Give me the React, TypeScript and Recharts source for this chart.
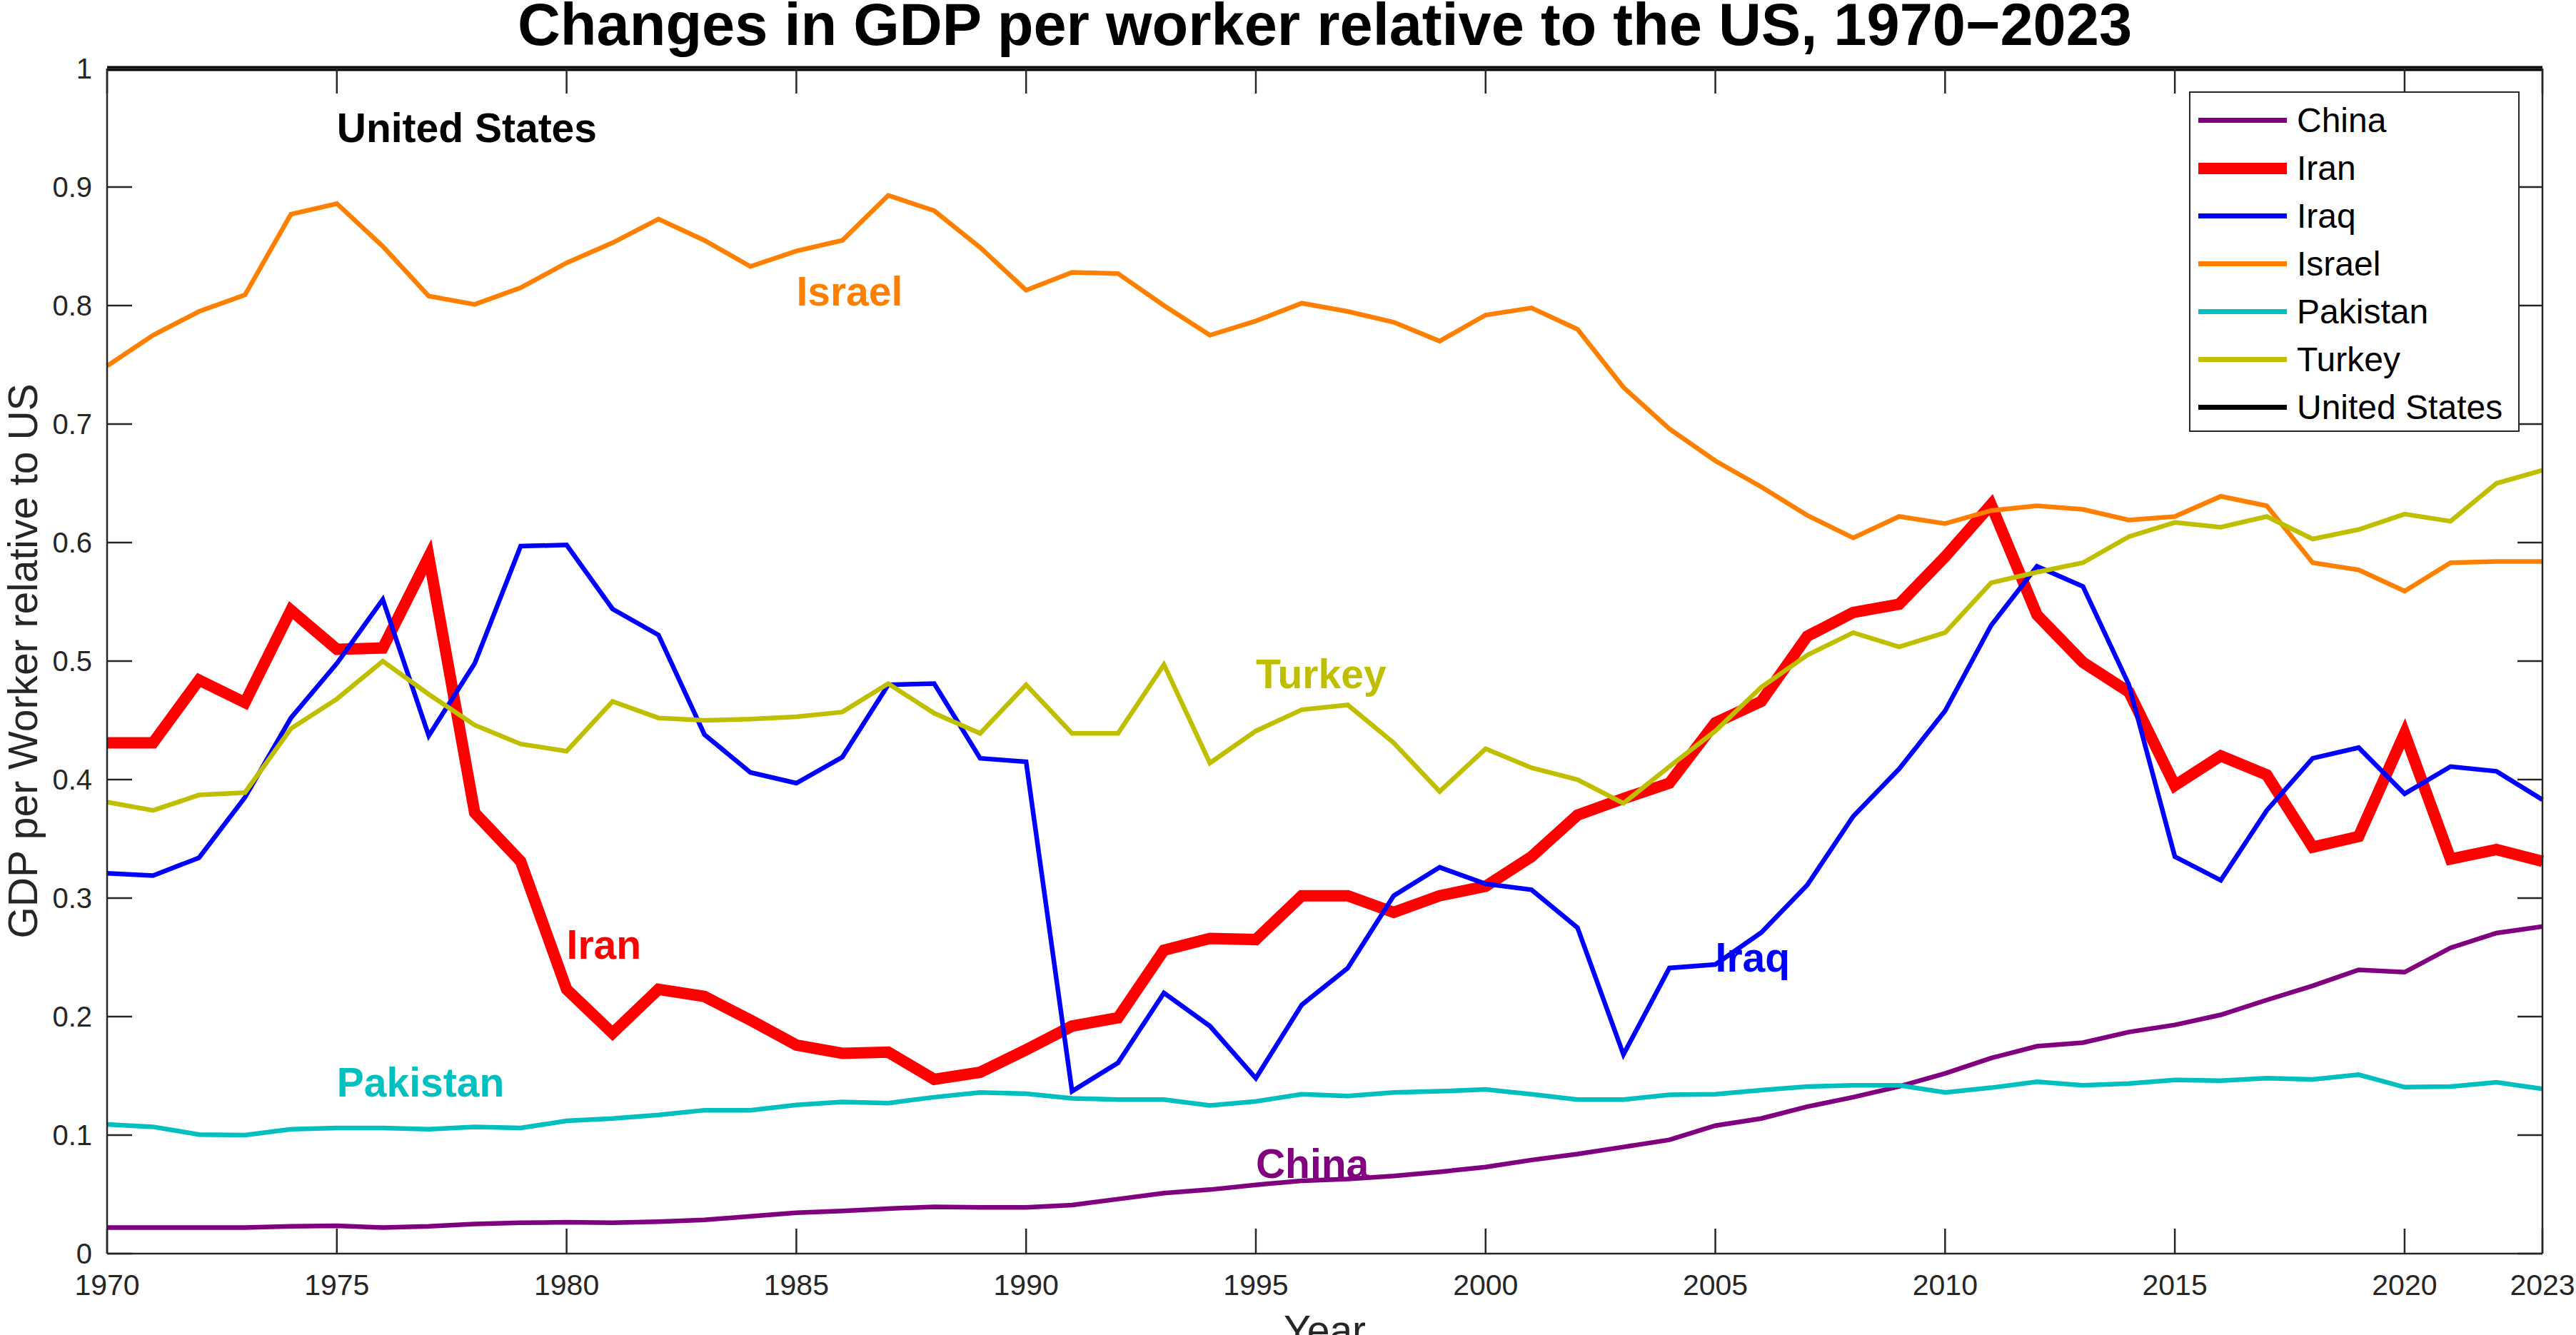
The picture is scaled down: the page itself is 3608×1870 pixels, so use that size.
import React from 'react'
import { LineChart, Line, XAxis, YAxis, ReferenceDot } from 'recharts'

const years = [
  1970, 1971, 1972, 1973, 1974, 1975, 1976, 1977, 1978, 1979,
  1980, 1981, 1982, 1983, 1984, 1985, 1986, 1987, 1988, 1989,
  1990, 1991, 1992, 1993, 1994, 1995, 1996, 1997, 1998, 1999,
  2000, 2001, 2002, 2003, 2004, 2005, 2006, 2007, 2008, 2009,
  2010, 2011, 2012, 2013, 2014, 2015, 2016, 2017, 2018, 2019,
  2020, 2021, 2022, 2023,
]

const china = [
  0.022, 0.022, 0.022, 0.022, 0.023, 0.0235, 0.022, 0.023, 0.025, 0.026,
  0.0265, 0.026, 0.027, 0.0285, 0.0315, 0.0345, 0.036, 0.038, 0.0395, 0.039,
  0.039, 0.041, 0.046, 0.051, 0.054, 0.058, 0.0615, 0.063, 0.0655, 0.069,
  0.073, 0.079, 0.084, 0.09, 0.096, 0.108, 0.114, 0.124, 0.132, 0.141,
  0.152, 0.165, 0.175, 0.178, 0.187, 0.193, 0.2015, 0.214, 0.226, 0.2395,
  0.2375, 0.258, 0.2705, 0.276,
]

const iran = [
  0.431, 0.431, 0.484, 0.465, 0.543, 0.51, 0.511, 0.588, 0.372, 0.331,
  0.223, 0.186, 0.223, 0.217, 0.197, 0.176, 0.169, 0.17, 0.147, 0.153,
  0.172, 0.192, 0.199, 0.256, 0.266, 0.265, 0.302, 0.302, 0.288, 0.302,
  0.31, 0.335, 0.37, 0.384, 0.397, 0.448, 0.466, 0.521, 0.541, 0.548,
  0.588, 0.632, 0.539, 0.499, 0.474, 0.395, 0.42, 0.404, 0.343, 0.352,
  0.439, 0.333, 0.341, 0.331,
]

const iraq = [
  0.321, 0.319, 0.334, 0.385, 0.452, 0.498, 0.552, 0.437, 0.498, 0.597,
  0.598, 0.544, 0.522, 0.438, 0.406, 0.397, 0.419, 0.48, 0.481, 0.418,
  0.415, 0.137, 0.161, 0.22, 0.192, 0.148, 0.21, 0.241, 0.302, 0.326,
  0.312, 0.307, 0.275, 0.168, 0.241, 0.244, 0.271, 0.311, 0.369, 0.409,
  0.458, 0.53, 0.58, 0.563, 0.48, 0.335, 0.315, 0.374, 0.418, 0.427,
  0.388, 0.411, 0.407, 0.383,
]

const israel = [
  0.749, 0.775, 0.795, 0.809, 0.877, 0.886, 0.85, 0.808, 0.801, 0.815,
  0.836, 0.853, 0.873, 0.855, 0.833, 0.846, 0.855, 0.893, 0.88, 0.849,
  0.813, 0.828, 0.827, 0.8, 0.775, 0.787, 0.802, 0.795, 0.786, 0.77,
  0.792, 0.798, 0.78, 0.731, 0.696, 0.669, 0.647, 0.623, 0.604, 0.622,
  0.616, 0.627, 0.631, 0.628, 0.619, 0.622, 0.639, 0.631, 0.583, 0.577,
  0.559, 0.583, 0.584, 0.584,
]

const pakistan = [
  0.109, 0.107, 0.1005, 0.1, 0.105, 0.106, 0.106, 0.105, 0.107, 0.106,
  0.112, 0.114, 0.117, 0.121, 0.121, 0.1255, 0.128, 0.127, 0.132, 0.136,
  0.135, 0.131, 0.13, 0.13, 0.125, 0.1285, 0.1345, 0.133, 0.136, 0.137,
  0.1385, 0.1345, 0.13, 0.13, 0.134, 0.1345, 0.138, 0.141, 0.142, 0.142,
  0.136, 0.14, 0.145, 0.142, 0.1435, 0.1465, 0.146, 0.148, 0.147, 0.151,
  0.1405, 0.141, 0.1445, 0.139,
]

const turkey = [
  0.381, 0.374, 0.387, 0.389, 0.443, 0.468, 0.5, 0.472, 0.446, 0.43,
  0.424, 0.466, 0.452, 0.45, 0.451, 0.453, 0.457, 0.481, 0.456, 0.439,
  0.48, 0.439, 0.439, 0.497, 0.414, 0.441, 0.459, 0.463, 0.431, 0.39,
  0.426, 0.41, 0.4, 0.38, 0.411, 0.441, 0.478, 0.505, 0.524, 0.512,
  0.524, 0.566, 0.575, 0.583, 0.605, 0.617, 0.613, 0.622, 0.603, 0.611,
  0.624, 0.618, 0.65, 0.661,
]

// every value is relative to the US, so the US row is 1 throughout
const unitedStates = [
  1, 1, 1, 1, 1, 1, 1, 1, 1, 1,
  1, 1, 1, 1, 1, 1, 1, 1, 1, 1,
  1, 1, 1, 1, 1, 1, 1, 1, 1, 1,
  1, 1, 1, 1, 1, 1, 1, 1, 1, 1,
  1, 1, 1, 1, 1, 1, 1, 1, 1, 1,
  1, 1, 1, 1,
]

const xTicks = [1970, 1975, 1980, 1985, 1990, 1995, 2000, 2005, 2010, 2015, 2020, 2023]
const yTicks = [0, 0.1, 0.2, 0.3, 0.4, 0.5, 0.6, 0.7, 0.8, 0.9, 1]

const series = [
  { key: 'china', name: 'China', color: '#800080', width: 6.5, values: china },
  { key: 'iran', name: 'Iran', color: '#FF0000', width: 16, values: iran },
  { key: 'iraq', name: 'Iraq', color: '#0000FF', width: 6.5, values: iraq },
  { key: 'israel', name: 'Israel', color: '#FF8000', width: 6.5, values: israel },
  { key: 'pakistan', name: 'Pakistan', color: '#00BFBF', width: 6.5, values: pakistan },
  { key: 'turkey', name: 'Turkey', color: '#BFBF00', width: 6.5, values: turkey },
  { key: 'us', name: 'United States', color: '#000000', width: 7, values: unitedStates },
]

const annotations = [
  { text: 'United States', year: 1975, value: 0.95, color: '#000000' },
  { text: 'Israel', year: 1985, value: 0.812, color: '#FF8000' },
  { text: 'Turkey', year: 1995, value: 0.489, color: '#BFBF00' },
  { text: 'Iran', year: 1980, value: 0.261, color: '#FF0000' },
  { text: 'Iraq', year: 2005, value: 0.25, color: '#0000FF' },
  { text: 'Pakistan', year: 1975, value: 0.145, color: '#00BFBF' },
  { text: 'China', year: 1995, value: 0.076, color: '#800080' },
]

const rows = years.map((year, i) => {
  const row: Record<string, number> = { year }
  series.forEach((s) => {
    row[s.key] = s.values[i]
  })
  return row
})

const FONT = '"Liberation Sans", Arial, Helvetica, sans-serif'
const AXIS = '#262626'
const axisLine = { stroke: AXIS, strokeWidth: 2.5 }

const NoTick = () => <g />

function GdpLegend() {
  return (
    <div
      style={{
        position: 'absolute',
        left: 3066,
        top: 128,
        width: 463,
        height: 477,
        border: `2px solid ${AXIS}`,
        boxSizing: 'border-box',
        background: '#fff',
        fontFamily: FONT,
      }}
    >
      {series.map((s, i) => (
        <div
          key={s.key}
          style={{ position: 'absolute', left: 0, top: 5 + 67 * i, height: 67, display: 'flex', alignItems: 'center' }}
        >
          <div style={{ marginLeft: 11, width: 124, height: s.width, background: s.color }} />
          <span style={{ marginLeft: 14, fontSize: 48, lineHeight: 1, color: '#000', whiteSpace: 'nowrap' }}>{s.name}</span>
        </div>
      ))}
    </div>
  )
}

export default function App() {
  return (
    <div style={{ position: 'absolute', left: 0, top: 0, width: 3608, height: 1870, background: '#fff', overflow: 'hidden' }}>
      <div
        style={{
          position: 'absolute',
          left: 150,
          top: 0,
          width: 3411,
          textAlign: 'center',
          fontFamily: FONT,
          fontWeight: 'bold',
          fontSize: 83,
          lineHeight: 0.85,
          color: '#000',
          whiteSpace: 'nowrap',
        }}
      >
        Changes in GDP per worker relative to the US, 1970−2023
      </div>

      <LineChart width={3608} height={1870} data={rows} margin={{ top: 96, right: 47, bottom: 54, left: 30 }}>
        <XAxis
          xAxisId="b"
          dataKey="year"
          type="number"
          domain={[1970, 2023]}
          ticks={xTicks}
          interval={0}
          height={60}
          tickLine={false}
          tickSize={0}
          tickMargin={29}
          axisLine={axisLine}
          tick={{ fill: AXIS, fontSize: 41, fontFamily: FONT }}
          label={{ value: 'Year', position: 'bottom', offset: 27, fill: AXIS, fontSize: 57, fontFamily: FONT }}
        />
        <XAxis
          xAxisId="bm"
          dataKey="year"
          type="number"
          domain={[1970, 2023]}
          allowDataOverflow
          ticks={xTicks}
          interval={0}
          mirror
          tickSize={35}
          tickLine={axisLine}
          axisLine={false}
          tick={NoTick}
        />
        <XAxis
          xAxisId="t"
          orientation="top"
          dataKey="year"
          type="number"
          domain={[1970, 2023]}
          allowDataOverflow
          ticks={xTicks}
          interval={0}
          mirror
          tickSize={35}
          tickLine={axisLine}
          axisLine={axisLine}
          tick={NoTick}
        />
        <YAxis
          yAxisId="l"
          type="number"
          domain={[0, 1]}
          ticks={yTicks}
          interval={0}
          width={120}
          tickLine={false}
          tickSize={0}
          tickMargin={21}
          axisLine={axisLine}
          tick={{ fill: AXIS, fontSize: 40, fontFamily: FONT }}
          tickFormatter={(v: number) => String(Number(v.toFixed(1)))}
          label={{
            value: 'GDP per Worker relative to US',
            angle: -90,
            position: 'insideLeft',
            offset: 2,
            fill: AXIS,
            fontSize: 57,
            fontFamily: FONT,
            style: { textAnchor: 'middle' },
          }}
        />
        <YAxis
          yAxisId="lm"
          type="number"
          domain={[0, 1]}
          allowDataOverflow
          ticks={yTicks}
          interval={0}
          mirror
          tickSize={35}
          tickLine={axisLine}
          axisLine={false}
          tick={NoTick}
        />
        <YAxis
          yAxisId="r"
          orientation="right"
          type="number"
          domain={[0, 1]}
          allowDataOverflow
          ticks={yTicks}
          interval={0}
          mirror
          tickSize={35}
          tickLine={axisLine}
          axisLine={axisLine}
          tick={NoTick}
        />

        {series.map((s) => (
          <Line
            key={s.key}
            xAxisId="b"
            yAxisId="l"
            type="linear"
            dataKey={s.key}
            name={s.name}
            stroke={s.color}
            strokeWidth={s.width}
            dot={false}
            activeDot={false}
            isAnimationActive={false}
          />
        ))}

        {annotations.map((a) => (
          <ReferenceDot
            key={a.text}
            xAxisId="b"
            yAxisId="l"
            x={a.year}
            y={a.value}
            r={0}
            fill="none"
            stroke="none"
            label={{
              value: a.text,
              position: 'right',
              offset: 0,
              fill: a.color,
              fontSize: 57,
              fontWeight: 'bold',
              fontFamily: FONT,
            }}
          />
        ))}
      </LineChart>

      <GdpLegend />
    </div>
  )
}
